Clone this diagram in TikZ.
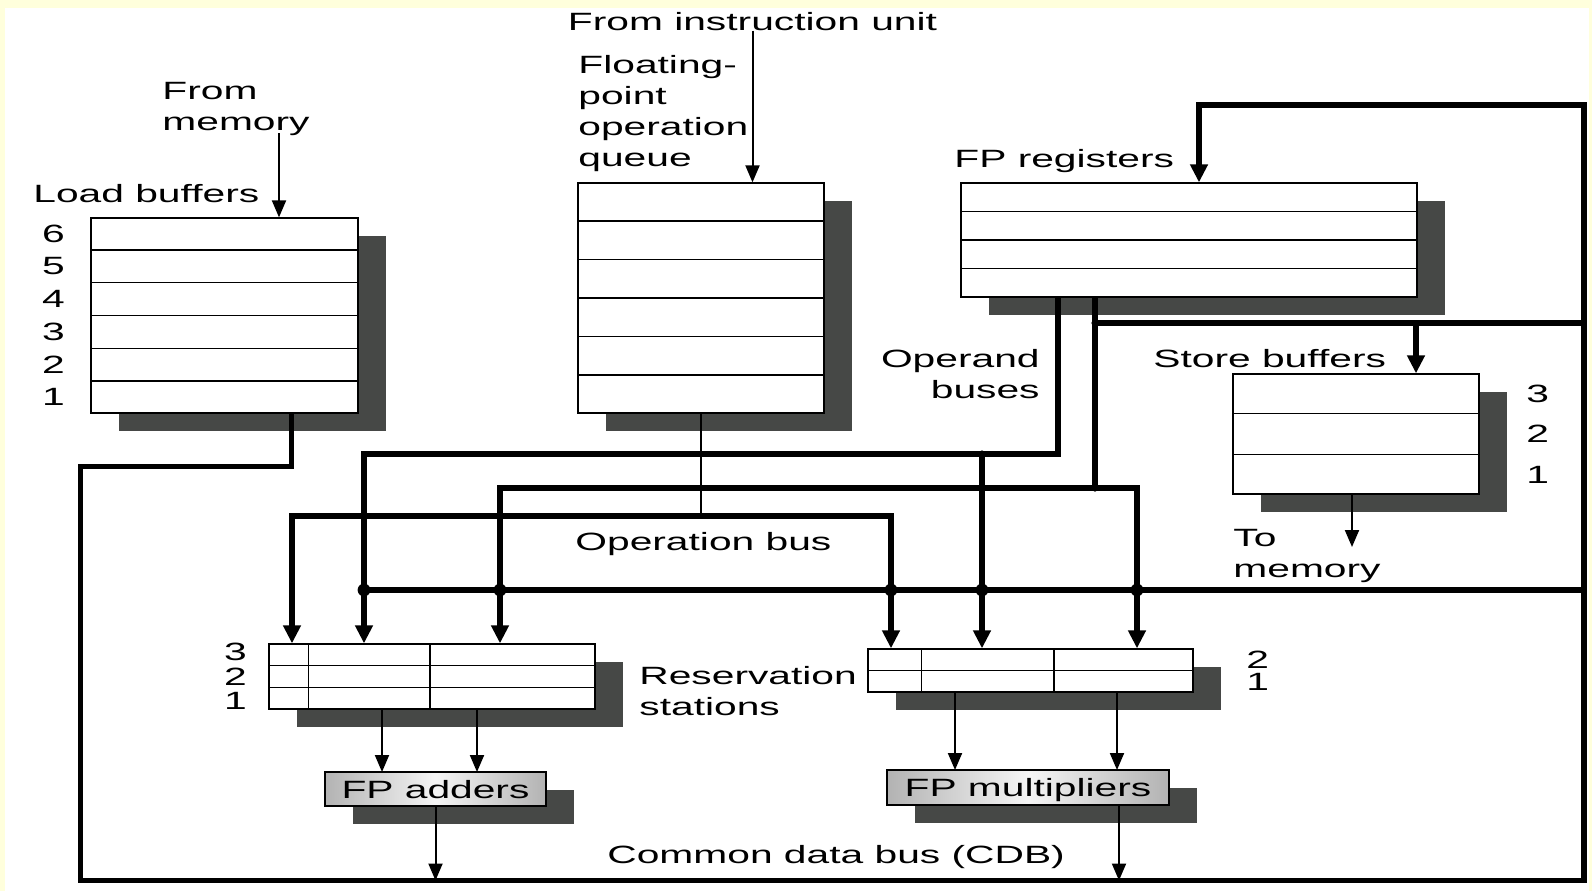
\documentclass[tikz,border=0pt]{standalone}
\usepackage{fontspec}
\setmainfont{Liberation Sans}[FakeStretch=1.63]
\usetikzlibrary{arrows.meta,calc,shadows}

\definecolor{bgyellow}{HTML}{FFFFDC}
\definecolor{shadowgray}{HTML}{464846}

\tikzset{
  regbox/.style={draw, line width=0.65pt, fill=white, inner sep=0pt,
    drop shadow={shadow xshift=13.75pt, shadow yshift=-8.75pt, fill=shadowgray, opacity=1}},
  fpunit/.style={regbox, text depth=0pt, left color=gray!60, right color=gray!60, middle color=gray!8},
  rowline/.style={line width=0.65pt},
  lbl/.style={inner sep=0pt, align=left},
  num/.style={inner sep=0pt},
  bus/.style={line width=2.8pt},
  busarrow/.style={bus, -{Triangle[length=9pt, width=8.5pt]}},
  busboth/.style={bus, {Triangle[length=9pt, width=8.5pt]}-{Triangle[length=9pt, width=8.5pt]}},
  feed/.style={line width=1pt, -{Triangle[length=8.5pt, width=7pt]}}
}

\begin{document}
\begin{tikzpicture}[x=0.5pt, y=-0.5pt, font=\fontsize{12.5}{15.5}\selectfont]
\useasboundingbox (0,0) rectangle (1592,891);
\fill[bgyellow] (0,0) rectangle (1592,891);
\fill[white] (5,8) rectangle (1589,891);

% buffers, queue and register file
\node[regbox, minimum width=133.5pt, minimum height=97.5pt] (lb) at (224.5,315.5) {};
\node[regbox, minimum width=123pt, minimum height=115pt] (queue) at (701,298) {};
\node[regbox, minimum width=228pt, minimum height=57pt] (fpr) at (1189,240) {};
\node[regbox, minimum width=123pt, minimum height=60pt] (sb) at (1356,434) {};
\node[regbox, minimum width=163pt, minimum height=32.5pt] (rsadd) at (432,676.5) {};
\node[regbox, minimum width=162.5pt, minimum height=21.5pt] (rsmul) at (1030.5,670.5) {};
\node[fpunit, minimum width=110.5pt, minimum height=17pt] (fpadd) at (435.5,789) {FP adders};
\node[fpunit, minimum width=141pt, minimum height=17.5pt] (fpmul) at (1028,787.5) {FP multipliers};

% entries
\foreach \i in {1,...,5} {
  \draw[rowline] ($(lb.north west)!\i/6!(lb.south west)$) -- ($(lb.north east)!\i/6!(lb.south east)$);
  \draw[rowline] ($(queue.north west)!\i/6!(queue.south west)$) -- ($(queue.north east)!\i/6!(queue.south east)$);
}
\foreach \i in {1,2,3}
  \draw[rowline] ($(fpr.north west)!\i/4!(fpr.south west)$) -- ($(fpr.north east)!\i/4!(fpr.south east)$);
\foreach \i in {1,2} {
  \draw[rowline] ($(sb.north west)!\i/3!(sb.south west)$) -- ($(sb.north east)!\i/3!(sb.south east)$);
  \draw[rowline] ($(rsadd.north west)!\i/3!(rsadd.south west)$) -- ($(rsadd.north east)!\i/3!(rsadd.south east)$);
}
\draw[rowline] (rsmul.west) -- (rsmul.east);
\foreach \f in {0.123,0.494}
  \draw[rowline] ($(rsadd.north west)!\f!(rsadd.north east)$) -- ($(rsadd.south west)!\f!(rsadd.south east)$);
\foreach \f in {0.166,0.572}
  \draw[rowline] ($(rsmul.north west)!\f!(rsmul.north east)$) -- ($(rsmul.south west)!\f!(rsmul.south east)$);

% entry numbers
\foreach \n [count=\i] in {6,5,4,3,2,1}
  \node[num] (lbn\n) at ($(lb.north west)!{(\i-0.5)/6}!(lb.south west) + (-37,0)$) {\n};
\foreach \n [count=\i] in {3,2,1} {
  \node[num] (sbn\n) at ($(sb.north east)!{(\i-0.5)/3}!(sb.south east) + (58,0)$) {\n};
  \node[num] (ran\n) at ($(rsadd.west) + (-33,{(\i-2)*24.5})$) {\n};
}
\foreach \n [count=\i] in {2,1}
  \node[num] (rmn\n) at ($(rsmul.north east)!{(\i-0.5)/2}!(rsmul.south east) + (64,0)$) {\n};

% labels
\node[lbl, anchor=base] (frominst) at (752.5,30) {From instruction unit};
\node[lbl, anchor=base west] (queuelbl) at (578,166) {Floating-\\point\\operation\\queue};
\node[lbl, anchor=base west] (memlbl) at (162,130) {From\\memory};
\node[lbl, anchor=base west] (lblbl) at (33,202) {Load buffers};
\node[lbl, anchor=base west] (fprlbl) at (954,167) {FP registers};
\node[lbl, anchor=base east, align=right] (oplbl) at (1040,398) {Operand\\buses};
\node[lbl, anchor=base west] (sblbl) at (1153,367) {Store buffers};
\node[lbl, anchor=base west] (tomemlbl) at (1233,577) {To\\memory};
\node[lbl, anchor=base west] (opbuslbl) at (575,550) {Operation bus};
\node[lbl, anchor=base west] (rslbl) at (639,715) {Reservation\\stations};
\node[lbl, anchor=base west] (cdblbl) at (607,863) {Common data bus (CDB)};

% bus tracks
\coordinate (memin) at (279,133);
\coordinate (lbout) at (291.5,466.5);
\coordinate (lbturn) at (80.5,466.5);
\coordinate (loopSW) at (80.5,880.5);
\coordinate (loopSE) at (1584,880.5);
\coordinate (loopNE) at (1584,105);
\coordinate (regin) at (1199,105);
\coordinate (stL) at (1095,323);
\coordinate (stR) at (1584,323);
\coordinate (stin) at (1416,323);
\coordinate (cdbL) at (364,590);
\coordinate (cdbR) at (1584,590);
\coordinate (upR) at (1058,454);
\coordinate (upL) at (364,454);
\coordinate (upM) at (982,454);
\coordinate (loL) at (500,488);
\coordinate (loM) at (1095,488);
\coordinate (loR) at (1137,488);
\coordinate (opbus) at (701,516);
\coordinate (opL) at (292,516);
\coordinate (opR) at (891,516);
\coordinate (addinA) at (382,772);
\coordinate (addinB) at (477,772);
\coordinate (mulinA) at (955,770);
\coordinate (mulinB) at (1117,770);
\coordinate (mulout) at (1119,805);
\coordinate (tomem) at (1352,547);

\draw[feed] (memin) -- (memin |- lb.north);
\draw[feed] (frominst) -- (frominst |- queue.north);
\draw[line width=1pt] (queue.south) -- (opbus);

% common data bus loop
\draw[busarrow] (lbout |- lb.south) -- (lbout) -- (lbturn) -- (loopSW) -- (loopSE) -- (loopNE) -- (regin) -- (regin |- fpr.north);
\draw[bus] (stL) -- (stR);
\draw[busarrow] (stin) -- (stin |- sb.north);
\draw[bus] (cdbL) -- (cdbR);

% operand and operation buses
\draw[busarrow] (upR |- fpr.south) -- (upR) -- (upL) -- (upL |- rsadd.north);
\draw[busarrow] (upM) -- (upM |- rsmul.north);
\draw[bus] (loM |- fpr.south) -- (loM);
\draw[busboth] (loL |- rsadd.north) -- (loL) -- (loR) -- (loR |- rsmul.north);
\draw[busboth] (opL |- rsadd.north) -- (opL) -- (opR) -- (opR |- rsmul.north);
\foreach \jn in {upL,loL,opR,upM,loR}
  \fill (\jn |- cdbL) circle (3.2pt);
\foreach \jn in {upM,stL,loM}
  \fill (\jn) circle (1.8pt);

% functional units
\draw[feed] (addinA |- rsadd.south) -- (addinA);
\draw[feed] (addinB |- rsadd.south) -- (addinB);
\draw[feed] (mulinA |- rsmul.south) -- (mulinA);
\draw[feed] (mulinB |- rsmul.south) -- (mulinB);
\draw[feed] (fpadd.south) -- (fpadd.south |- loopSW);
\draw[feed] (mulout) -- (mulout |- loopSW);
\draw[feed] (tomem |- sb.south) -- (tomem);
\end{tikzpicture}
\end{document}
